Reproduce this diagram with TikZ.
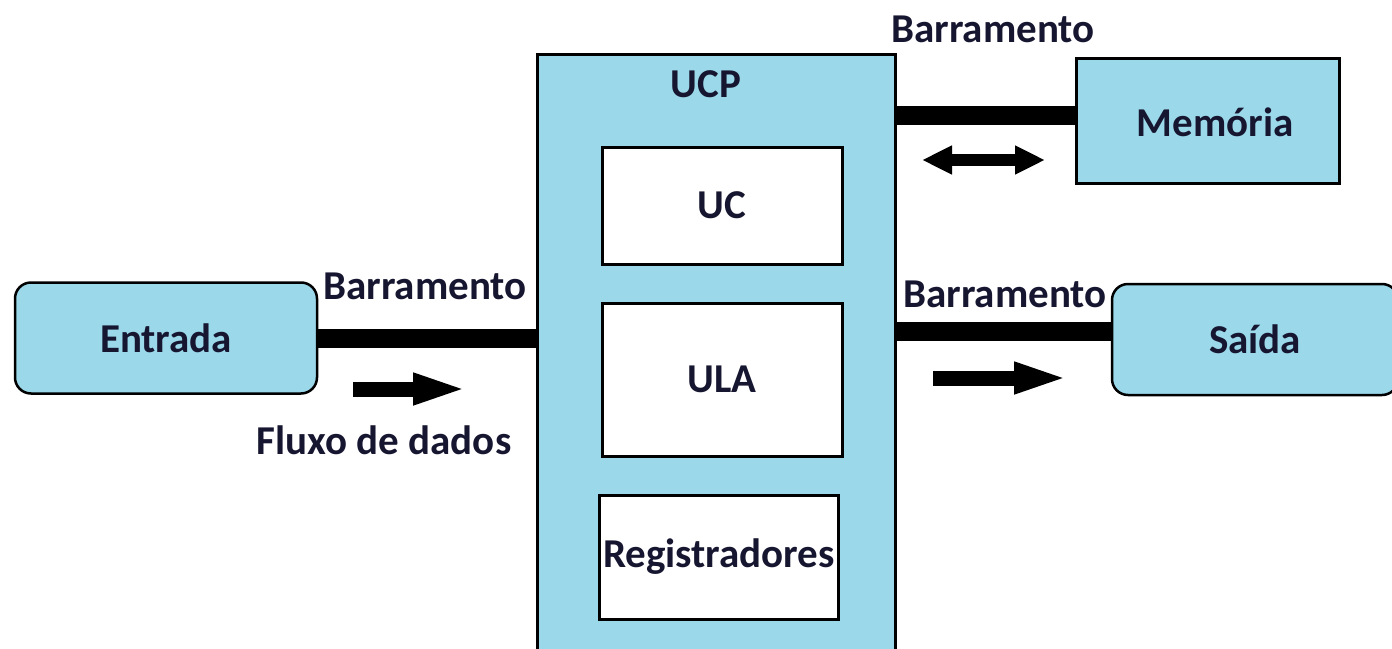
\documentclass[tikz,border=0pt]{standalone}
\usepackage{fontspec}
\setmainfont{Carlito}
\usetikzlibrary{arrows.meta}
\definecolor{boxblue}{RGB}{155,217,234}
\definecolor{txtc}{RGB}{22,22,48}
\tikzset{
  lbl/.style={font=\fontsize{41}{48}\selectfont\bfseries, text=txtc, inner sep=0pt},
  bluebox/.style={draw=black, line width=3pt, fill=boxblue, inner sep=0pt, anchor=center},
  whitebox/.style={draw=black, line width=3pt, fill=white, inner sep=0pt, anchor=center},
  ioshape/.style={draw=black, line width=2.5pt, fill=boxblue, rounded corners=16pt, inner sep=0pt, anchor=center},
  bus/.style={line width=19pt, black},
  flow/.style={line width=15pt, black, -{Triangle[length=56pt, width=28pt]}},
  dflow/.style={line width=12pt, black, {Triangle[length=30pt, width=27pt]}-{Triangle[length=30pt, width=27pt]}}
}
\begin{document}
\begin{tikzpicture}[x=1pt, y=-1pt]
\useasboundingbox (0,0) rectangle (1392,648);
\clip (0,0) rectangle (1392,648);
% CPU
\node[bluebox, minimum width=358pt, minimum height=620pt] (ucp) at (716,364) {};
\node[lbl] (ucplbl) at (706,84) {UCP};
\node[whitebox, minimum width=240pt, minimum height=117pt, lbl] (uc) at (722,205.5) {UC};
\node[whitebox, minimum width=240pt, minimum height=153pt, lbl] (ula) at (722,379.5) {ULA};
\node[whitebox, minimum width=239pt, minimum height=124pt, lbl] (reg) at (719,557) {Registradores};
% Memory
\node[bluebox, minimum width=263pt, minimum height=125pt] (mem) at (1207.5,120.5) {};
\node[lbl] (memlbl) at (1215,122) {Mem\'oria};
% IO
\node[ioshape, minimum width=302pt, minimum height=111pt, lbl] (entrada) at (166,338) {Entrada};
\node[ioshape, minimum width=286pt, minimum height=111pt, lbl] (saida) at (1255,339.5) {Sa\'ida};
% Buses
\coordinate (memport) at ([yshift=5.5pt]mem.west);
\coordinate (saiport) at ([yshift=8.5pt]saida.west);
\draw[bus] (entrada.east) -- (ucp.west |- entrada.east);
\draw[bus] (memport) -- (ucp.east |- memport);
\draw[bus] (saiport) -- (ucp.east |- saiport);
% Labels
\node[lbl] (b1) at (425,286) {Barramento};
\node[lbl] (b2) at (993,29) {Barramento};
\node[lbl] (b3) at (1005,294) {Barramento};
\node[lbl] (fl) at (384,440) {Fluxo de dados};
% Flow arrows
\coordinate (f1a) at (353,389);
\coordinate (f1b) at (469,389);
\draw[flow] (f1a) -- (f1b);
\coordinate (f2a) at (933,378);
\coordinate (f2b) at (1070,378);
\draw[flow] (f2a) -- (f2b);
\coordinate (f3a) at (922,160);
\coordinate (f3b) at (1045,160);
\draw[dflow] (f3a) -- (f3b);
\end{tikzpicture}
\end{document}
